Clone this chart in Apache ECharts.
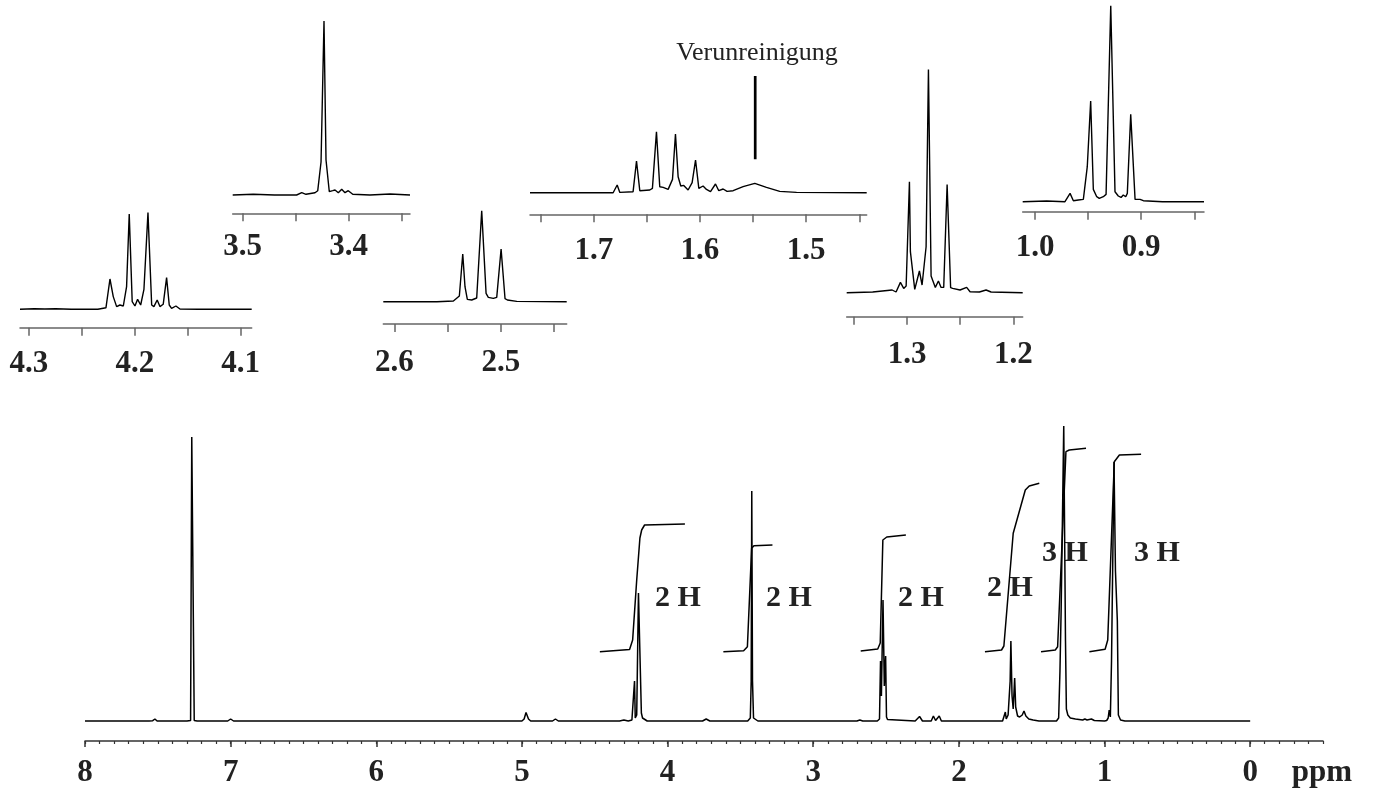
<!DOCTYPE html>
<html>
<head>
<meta charset="utf-8">
<title>1H NMR</title>
<script src="https://cdn.jsdelivr.net/npm/echarts@6/dist/echarts.min.js"></script>
<style>
  html,body{margin:0;padding:0;background:#fff;}
  #nmr{width:1373px;height:794px;}
</style>
</head>
<body>
<div id="nmr"></div>
<script>
// 主谱 [ppm, 强度]
let mainSpectrum = [
  [8.0,0],[7.56,0],[7.535,0.3],[7.52,2],[7.505,0],[7.30,0],[7.275,0.5],[7.267,284],[7.258,284],[7.25,0.5],[7.23,0],
  [7.02,0],[7.0,2],[6.98,0],[5.0,0],[4.985,2],[4.972,8.5],[4.955,2],[4.94,0],[4.79,0],[4.77,2],[4.75,0],
  [4.33,0],[4.30,1],[4.27,0],[4.245,1],[4.232,2],[4.227,40],[4.222,3],[4.212,6],[4.2,128],[4.193,128],[4.18,8],[4.172,3],[4.16,1],[4.14,0],
  [3.76,0],[3.735,2],[3.71,0],[3.60,0],[3.59,1.5],[3.57,0],
  [3.45,0],[3.432,3],[3.426,40],[3.422,230],[3.417,40],[3.41,3],[3.40,1],[3.38,0],[3.28,0],[3.27,1.5],[3.25,0],
  [2.70,0],[2.68,1],[2.66,0],[2.56,0],[2.545,2],[2.538,60],[2.532,25],[2.521,121],[2.512,35],[2.503,65],[2.497,4],[2.49,1.5],[2.48,0],
  [2.30,0],[2.27,4.5],[2.25,0],[2.19,0],[2.175,5],[2.16,0.5],[2.147,0.5],[2.135,5],[2.12,0],
  [1.70,0],[1.688,2],[1.681,9],[1.675,2],[1.662,6],[1.648,40],[1.643,80],[1.635,25],[1.627,12],[1.617,43],[1.61,14],
  [1.597,5],[1.583,4],[1.565,6],[1.553,10],[1.54,5],[1.52,2],[1.49,1],[1.45,0],[1.44,1.5],[1.42,0],
  [1.33,0],[1.315,3],[1.306,50],[1.298,110],[1.28,295],[1.268,80],[1.262,12],[1.252,6],[1.245,7],[1.235,3],[1.20,2],
  [1.15,1],[1.135,2],[1.12,1],[1.09,2],[1.07,0.5],[1.0,0],[0.985,0.5],[0.975,3],[0.968,11],[0.96,4],[0.952,60],
  [0.935,259],[0.925,150],[0.912,100],[0.905,6],[0.89,1],[0.86,0],[0.79,0],[0.78,1.5],[0.765,0],[0,0]
]
let mainTicks = [8,7,6,5,4,3,2,1,0]

// 积分曲线
let int42 = [[4.465,69.3],[4.261,71.5],[4.24,81],[4.212,141],[4.19,183],[4.178,191],[4.158,196],[3.881,197]]
let int34 = [[3.617,69.3],[3.478,70.3],[3.452,74.3],[3.423,172.7],[3.407,175.3],[3.280,176]]
let int25 = [[2.674,70],[2.557,72],[2.54,78],[2.522,181],[2.495,184],[2.364,186]]
let int16 = [[1.821,69.3],[1.707,71],[1.691,75],[1.627,187.7],[1.544,231],[1.517,235],[1.448,237.7]]
let int13 = [[1.436,69.3],[1.338,71],[1.322,74.3],[1.265,269.3],[1.242,271],[1.127,272.7]]
let int09 = [[1.104,69.3],[0.996,71.7],[0.978,81],[0.933,259.3],[0.898,266],[0.749,266.7]]

// 放大图
let spec42 = [[4.3085,0],[4.295,0.5],[4.285,0.3],[4.275,0.5],[4.26,0],[4.235,0],[4.2273,1.5],[4.2235,30.3],[4.2204,12.7],[4.2172,2.7],[4.2141,4.3],[4.2109,3.3],[4.2078,22.7],[4.2053,95.3],[4.2025,7.7],[4.1999,3.3],[4.1974,10],[4.1945,4.3],[4.1914,20],[4.1876,96.7],[4.1841,4.3],[4.182,2.7],[4.1789,9.3],[4.1763,2.7],[4.1732,5],[4.17,31.7],[4.1675,4.3],[4.1653,1],[4.1612,3.3],[4.1574,0.3],[4.14,0],[4.0896,0]]
let spec34 = [[3.5094,0],[3.49,0.7],[3.47,0],[3.4491,0],[3.4443,2.3],[3.4403,0.7],[3.4318,2.3],[3.4292,4.3],[3.4261,33],[3.4233,174],[3.4214,35],[3.4183,3.3],[3.4151,4.3],[3.4129,5],[3.4098,2.3],[3.4066,5.7],[3.4035,2.3],[3.4004,4.3],[3.3962,0.7],[3.38,0],[3.361,1],[3.3422,0]]
let spec25 = [[2.6103,0],[2.56,0],[2.5445,0.7],[2.5389,5.7],[2.5357,47.7],[2.5336,15],[2.5314,2.3],[2.5273,1.7],[2.5226,3.7],[2.5179,91],[2.5138,8.3],[2.5117,4.3],[2.507,3.3],[2.5038,4.3],[2.4997,52.7],[2.496,3],[2.4938,1.7],[2.485,0.3],[2.4381,0]]
let spec16 = [[1.7601,0],[1.6818,0],[1.678,7.7],[1.6755,0.3],[1.663,1],[1.6598,31.7],[1.6567,2],[1.6473,2.7],[1.6448,4.3],[1.641,61],[1.6379,6],[1.6347,5.3],[1.63,3.3],[1.6259,13.3],[1.6231,58.7],[1.6206,16],[1.6181,6.7],[1.6153,7.3],[1.6112,2.7],[1.6074,10],[1.6042,32.7],[1.6011,4.3],[1.5971,6.7],[1.5939,3.3],[1.5901,1],[1.5854,8.7],[1.5823,2],[1.5782,3.7],[1.5745,1.3],[1.5688,2],[1.5594,6],[1.5484,9.3],[1.5374,5.3],[1.5249,1.3],[1.5091,0.3],[1.443,0]]
let spec13 = [[1.3569,0],[1.3324,0.7],[1.3141,2.7],[1.3104,0.7],[1.3063,10.3],[1.3032,4.3],[1.3009,6.7],[1.2978,111],[1.2969,41],[1.2928,3.3],[1.2884,21.7],[1.2859,7.7],[1.2821,46],[1.2799,223.3],[1.2774,16.7],[1.2734,5.3],[1.2705,11.7],[1.268,5.3],[1.2655,5.3],[1.2623,108.3],[1.259,5],[1.2571,4.3],[1.2501,2.7],[1.2439,5.3],[1.2407,1],[1.2319,0.7],[1.2256,2.7],[1.2209,0.7],[1.1911,0]]
let spec09 = [[1.0116,0],[0.989,0.7],[0.9718,0],[0.967,8.3],[0.9639,1],[0.9592,1.7],[0.9545,2.3],[0.9508,35],[0.9476,100.7],[0.9451,12.3],[0.9419,5],[0.9395,3.3],[0.9357,5],[0.9331,7.3],[0.9287,196],[0.9247,10],[0.9216,5.7],[0.919,4.3],[0.9169,6.7],[0.9146,5],[0.9131,8.3],[0.9099,87.3],[0.9058,2.3],[0.9011,2.3],[0.898,1],[0.88,0],[0.8409,0]]
let marker16 = [[1.548,33.4],[1.548,116.7]]

let ticks42 = [4.3,4.25,4.2,4.15,4.1], labels42 = [4.3,4.2,4.1]
let ticks34 = [3.5,3.45,3.4,3.35], labels34 = [3.5,3.4]
let ticks25 = [2.6,2.55,2.5,2.45], labels25 = [2.6,2.5]
let ticks16 = [1.75,1.7,1.65,1.6,1.55,1.5,1.45], labels16 = [1.7,1.6,1.5]
let ticks13 = [1.35,1.3,1.25,1.2], labels13 = [1.3,1.2]
let ticks09 = [1.0,0.95,0.9,0.85], labels09 = [1.0,0.9]

function drawNmr(){
    let box = document.querySelector("#nmr")
    let myChart = echarts.init(box)
    let font = '"Liberation Serif","Times New Roman",serif'
    let grids = [], xAxes = [], yAxes = [], series = []

    // 主谱坐标
    grids.push({left:85, top:421, width:1238, height:320})
    let minor = []
    for(let k=-5;k<=80;k++){ minor.push(Math.round(k)/10) }
    xAxes.push({
        type:'value', gridIndex:0, min:-0.5, max:8, inverse:true, position:'bottom',
        axisLine:{show:true, onZero:false, lineStyle:{color:'#333', width:1.5}},
        axisTick:{show:true, customValues:mainTicks, length:6, lineStyle:{color:'#333', width:1.5}},
        axisLabel:{show:true, customValues:mainTicks, margin:16, fontFamily:font, fontSize:31, fontWeight:'bold', color:'#222'},
        splitLine:{show:false}
    })
    xAxes.push({
        type:'value', gridIndex:0, min:-0.5, max:8, inverse:true, position:'bottom',
        axisLine:{show:false, onZero:false},
        axisTick:{show:true, customValues:minor, length:3, lineStyle:{color:'#333', width:1.2}},
        axisLabel:{show:false}, splitLine:{show:false}
    })
    yAxes.push({type:'value', gridIndex:0, min:-20, max:300, show:false})

    let line = (data, xi, yi, w) => ({
        type:'line', data:data, xAxisIndex:xi, yAxisIndex:yi, showSymbol:false, symbol:'none',
        lineStyle:{color:'#000', width:w || 1.5}, animation:false, silent:true, clip:false
    })
    series.push(line(mainSpectrum, 0, 0))
    ;[int42, int34, int25, int16, int13, int09].forEach(d => series.push(line(d, 0, 0, 1.5)))

    // 放大图
    let insets = [
        {d:spec42, t:ticks42, l:labels42, lo:4.0896, hi:4.3085, left:20, width:231.7, axisY:327.7, ymin:-18.4, ymax:100, margin:21},
        {d:spec34, t:ticks34, l:labels34, lo:3.3422, hi:3.5094, left:232.7, width:177.3, axisY:213.3, ymin:-18.3, ymax:180, margin:18},
        {d:spec25, t:ticks25, l:labels25, lo:2.4381, hi:2.6103, left:383.3, width:183.4, axisY:324, ymin:-22.3, ymax:95, margin:23},
        {d:spec16, t:ticks16, l:labels16, lo:1.443, hi:1.7601, left:530, width:336.7, axisY:214.3, ymin:-21.6, ymax:120, margin:21},
        {d:spec13, t:ticks13, l:labels13, lo:1.1911, hi:1.3569, left:846.7, width:176, axisY:316.7, ymin:-24, ymax:230, margin:23},
        {d:spec09, t:ticks09, l:labels09, lo:0.8409, hi:1.0116, left:1022.7, width:181.3, axisY:211.7, ymin:-10, ymax:200, margin:21}
    ]
    insets.forEach((c, i) => {
        let gi = i + 1
        let h = c.ymax - c.ymin
        grids.push({left:c.left, top:c.axisY - h, width:c.width, height:h})
        xAxes.push({
            type:'value', gridIndex:gi, min:c.lo, max:c.hi, inverse:true, position:'bottom',
            axisLine:{show:true, onZero:false, lineStyle:{color:'#666', width:1.5}},
            axisTick:{show:true, customValues:c.t, length:8, lineStyle:{color:'#666', width:1.5}},
            axisLabel:{show:true, customValues:c.l, formatter:v => Number(v).toFixed(1), margin:c.margin,
                fontFamily:font, fontSize:31, fontWeight:'bold', color:'#222'},
            splitLine:{show:false}
        })
        yAxes.push({type:'value', gridIndex:gi, min:c.ymin, max:c.ymax, show:false})
        series.push(line(c.d, gi + 1, gi, 1.4))
    })
    // Verunreinigung 标记线
    series.push(line(marker16, 5, 4, 2.7))

    let txt = (s, x, y, size, weight) => ({
        type:'text', x:x, y:y, silent:true,
        style:{text:s, font:(weight || 'bold') + ' ' + size + 'px ' + font, fill:'#222', align:'center', verticalAlign:'middle'}
    })
    let option = {
        animation:false,
        grid:grids, xAxis:xAxes, yAxis:yAxes, series:series,
        graphic:[
            txt('2 H', 678, 598, 30), txt('2 H', 789, 598, 30), txt('2 H', 921, 598, 30),
            txt('2 H', 1010, 588, 30), txt('3 H', 1065, 553, 30), txt('3 H', 1157, 553, 30),
            txt('ppm', 1322, 773, 31), txt('Verunreinigung', 757, 53, 26, 'normal')
        ]
    }
    myChart.setOption(option)
}
drawNmr()
</script>
</body>
</html>
